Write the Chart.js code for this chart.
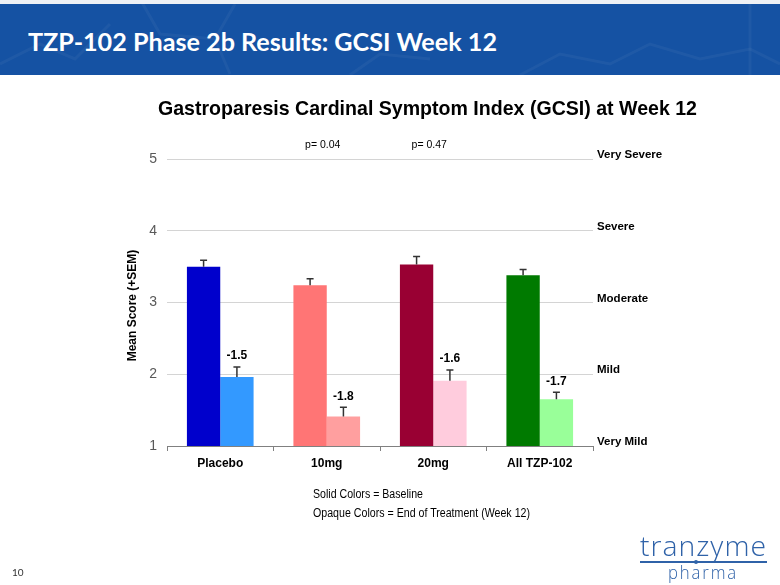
<!DOCTYPE html>
<html>
<head>
<meta charset="utf-8">
<script src="https://cdn.jsdelivr.net/npm/chart.js@4.4.1/dist/chart.umd.min.js"></script>
<style>
html,body{margin:0;padding:0;background:#fff;}
#wrap{position:relative;width:780px;height:585px;overflow:hidden;font-family:"Liberation Sans",Arial,sans-serif;}
#topline{position:absolute;left:0;top:0;width:780px;height:4px;background:#eef1f5;}
#hdr{position:absolute;left:0;top:4px;width:780px;height:71px;background:#1552A3;overflow:hidden;}
#hdr svg{position:absolute;left:0;top:0;}
.t{position:absolute;white-space:nowrap;line-height:1;transform-origin:0 0;}
#hdrText{left:28px;top:24.8px;color:#fff;font-family:Lato,"Open Sans",sans-serif;font-weight:700;font-size:25px;}
#chartTitle{top:97.2px;color:#000;font-weight:700;font-size:21px;}
#foot1{left:313px;top:487.7px;font-size:12.5px;color:#000;}
#foot2{left:313px;top:507.4px;font-size:12.5px;color:#000;}
#pg{left:12px;top:567px;font-family:Lato,sans-serif;font-size:10px;color:#333;}
#logo1{left:640px;top:531px;font-family:"Open Sans",sans-serif;font-weight:300;font-size:28px;color:#2f62a8;letter-spacing:1px;}
#logo2{left:668px;top:563px;font-family:"Open Sans",sans-serif;font-weight:300;font-size:18px;color:#2f62a8;letter-spacing:2px;}
#logoLine{position:absolute;left:640px;top:561px;width:127px;height:1.5px;background:#2f62a8;}
#logoDot{position:absolute;left:694px;top:559.5px;width:4px;height:4px;border-radius:2px;background:#2f62a8;}
canvas{position:absolute;left:0;top:0;}
</style>
</head>
<body>
<div id="wrap">
  <div id="topline"></div>
  <div id="hdr">
    <svg width="780" height="71">
      <g stroke="rgba(255,255,255,0.045)" stroke-width="3" fill="none">
        <polyline points="0,60 40,40 75,55 110,20"/>
        <polyline points="140,-5 160,30 215,35 235,0"/>
        <polyline points="215,35 230,70"/>
        <polyline points="350,71 380,50 430,55"/>
        <polyline points="520,71 560,50 610,60 650,40 700,55 750,45 780,60"/>
        <polyline points="750,0 750,71"/>
      </g>
    </svg>
    <div id="hdrText" class="t">TZP-102 Phase 2b Results: GCSI Week 12</div>
  </div>
  <canvas id="c" width="780" height="585"></canvas>
  <div id="chartTitle" class="t">Gastroparesis Cardinal Symptom Index (GCSI) at Week 12</div>
  <div id="foot1" class="t">Solid Colors = Baseline</div>
  <div id="foot2" class="t">Opaque Colors = End of Treatment (Week 12)</div>
  <div id="pg" class="t">10</div>
  <div id="logo1" class="t">tranzyme</div>
  <div id="logoLine"></div>
  <div id="logoDot"></div>
  <div id="logo2" class="t">pharma</div>
</div>
<script>
// ---- data ----
const categories = ['Placebo', '10mg', '20mg', 'All TZP-102'];
const baseline = [3.50, 3.24, 3.53, 3.38];
const baselineSEM = [0.09, 0.09, 0.11, 0.08];
const week12 = [1.96, 1.41, 1.91, 1.65];
const week12SEM = [0.14, 0.13, 0.15, 0.10];
const changeLabels = ['-1.5', '-1.8', '-1.6', '-1.7'];
const pValues = [null, 'p= 0.04', 'p= 0.47', null];
const severityLabels = ['Very Mild', 'Mild', 'Moderate', 'Severe', 'Very Severe'];
const yTicks = [1, 2, 3, 4, 5];

const baselineColors = ['#0000CC', '#FF7575', '#990033', '#007A00'];
const week12Colors = ['#3399FF', '#FF9F9F', '#FFCCDD', '#99FF99'];

// fit HTML texts to measured widths
function fitWidth(id, w) {
  const el = document.getElementById(id);
  const cur = el.getBoundingClientRect().width;
  el.style.transform = 'scaleX(' + (w / cur) + ')';
}
function centerAt(id, cx, w) {
  const el = document.getElementById(id);
  fitWidth(id, w);
  el.style.left = (cx - w / 2) + 'px';
}
fitWidth('hdrText', 469);
centerAt('chartTitle', 427.5, 539);
fitWidth('foot1', 110);
fitWidth('foot2', 217);
fitWidth('logo1', 127);
fitWidth('logo2', 70);

const errSets = [baselineSEM, week12SEM];

const annot = {
  id: 'annot',
  afterDatasetsDraw(chart) {
    const ctx = chart.ctx;
    const y = chart.scales.y;
    const x = chart.scales.x;
    ctx.save();
    // error bars
    ctx.strokeStyle = '#333';
    ctx.lineWidth = 1.5;
    chart.data.datasets.forEach((ds, di) => {
      const meta = chart.getDatasetMeta(di);
      meta.data.forEach((bar, i) => {
        const top = y.getPixelForValue(ds.data[i] + errSets[di][i]);
        ctx.beginPath();
        ctx.moveTo(bar.x, bar.y);
        ctx.lineTo(bar.x, top);
        ctx.moveTo(bar.x - 3.5, top);
        ctx.lineTo(bar.x + 3.5, top);
        ctx.stroke();
        if (di === 1) {
          ctx.fillStyle = '#000';
          ctx.font = 'bold 12px "Liberation Sans", Arial, sans-serif';
          ctx.textAlign = 'center';
          ctx.textBaseline = 'middle';
          ctx.fillText(changeLabels[i], bar.x, top - 11);
        }
      });
    });
    // p values
    ctx.fillStyle = '#000';
    ctx.font = '10.5px "Liberation Sans", Arial, sans-serif';
    ctx.textAlign = 'center';
    ctx.textBaseline = 'middle';
    pValues.forEach((p, i) => {
      if (p) ctx.fillText(p, x.getPixelForValue(i) - 4, 145.5);
    });
    // y axis title
    ctx.translate(133, (chart.chartArea.top + chart.chartArea.bottom) / 2 + 3);
    ctx.rotate(-Math.PI / 2);
    ctx.font = 'bold 12px "Liberation Sans", Arial, sans-serif';
    ctx.fillText('Mean Score (+SEM)', 0, 0);
    ctx.restore();
  }
};

new Chart(document.getElementById('c'), {
  type: 'bar',
  data: {
    labels: categories,
    datasets: [
      { label: 'Baseline', data: baseline, backgroundColor: baselineColors, yAxisID: 'y' },
      { label: 'Week 12', data: week12, backgroundColor: week12Colors, yAxisID: 'y' }
    ]
  },
  options: {
    responsive: false,
    devicePixelRatio: 1,
    animation: false,
    categoryPercentage: 0.626,
    barPercentage: 1.0,
    layout: { padding: { top: 159, bottom: 0, left: 0, right: 0 } },
    plugins: { legend: { display: false }, tooltip: { enabled: false }, title: { display: false } },
    scales: {
      x: {
        grid: { drawOnChartArea: false, drawTicks: true, tickLength: 5, color: '#808080', offset: true },
        border: { display: true, color: '#808080', width: 1 },
        ticks: { color: '#000', font: { family: '"Liberation Sans", Arial, sans-serif', size: 12, weight: 'bold' }, padding: 5 },
        afterFit(s) { s.height = 139; }
      },
      y: {
        position: 'left',
        min: 1, max: 5,
        afterBuildTicks(s) { s.ticks = yTicks.map(v => ({ value: v })); },
        ticks: { color: '#595959', font: { family: '"Liberation Sans", Arial, sans-serif', size: 14 }, padding: 10 },
        grid: { drawTicks: false, color: (c) => c.tick && c.tick.value === 1 ? 'rgba(0,0,0,0)' : '#D4D4D4', lineWidth: 1 },
        border: { display: false },
        afterFit(s) { s.width = 167; }
      },
      y2: {
        position: 'right',
        min: 1, max: 5,
        afterBuildTicks(s) { s.ticks = yTicks.map(v => ({ value: v })); },
        ticks: {
          color: '#000',
          font: { family: '"Liberation Sans", Arial, sans-serif', size: 11.5, weight: 'bold' },
          padding: 4,
          labelOffset: -4,
          callback: (v) => severityLabels[yTicks.indexOf(v)]
        },
        grid: { display: false, drawTicks: false },
        border: { display: false },
        afterFit(s) { s.width = 187; }
      }
    }
  },
  plugins: [annot]
});
</script>
</body>
</html>
